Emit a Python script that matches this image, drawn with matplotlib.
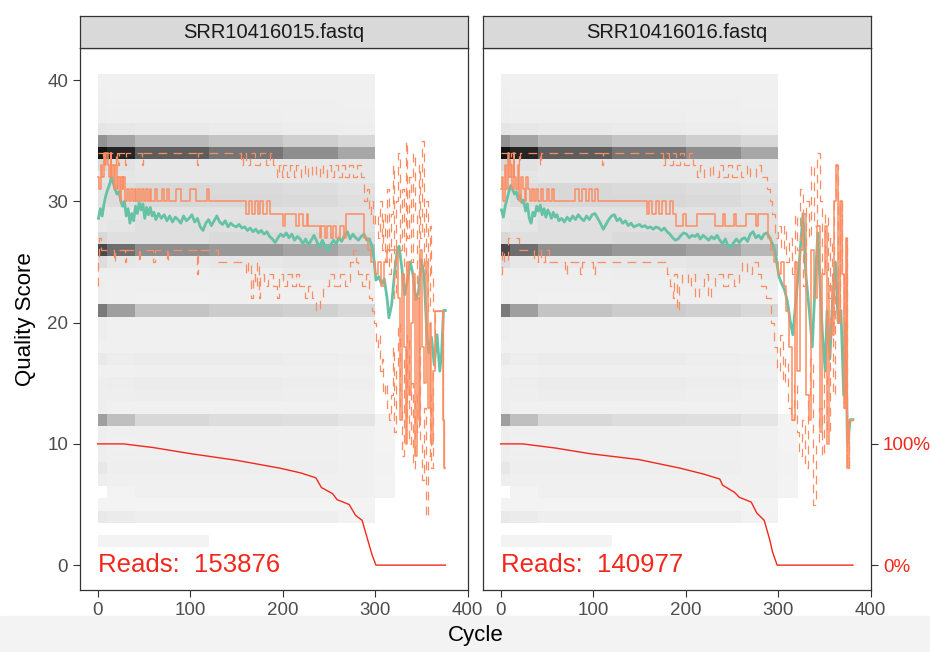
import numpy as np
import matplotlib
matplotlib.use("Agg")
import matplotlib.pyplot as plt
from matplotlib.colors import LinearSegmentedColormap
from matplotlib.patches import Rectangle

plt.rcParams['font.family'] = ['Liberation Sans', 'DejaVu Sans']

titles = ['SRR10416015.fastq', 'SRR10416016.fastq']
read_counts = [153876, 140977]

# heatmap of quality score counts (0 = no tile, 1 = black)
heat_edges = [0, 10, 40, 120, 200, 260, 300, 322]
heat = [
    [0.010, 0.010, 0.010, 0.000, 0.000, 0.000, 0.000],  # 2
    [0.000, 0.000, 0.000, 0.000, 0.000, 0.000, 0.000],  # 3
    [0.050, 0.040, 0.030, 0.030, 0.030, 0.015, 0.000],  # 4
    [0.010, 0.010, 0.010, 0.010, 0.010, 0.010, 0.000],  # 5
    [0.000, 0.010, 0.020, 0.020, 0.020, 0.020, 0.010],  # 6
    [0.030, 0.020, 0.020, 0.020, 0.020, 0.020, 0.010],  # 7
    [0.060, 0.030, 0.030, 0.030, 0.030, 0.020, 0.015],  # 8
    [0.030, 0.025, 0.025, 0.025, 0.025, 0.020, 0.015],  # 9
    [0.030, 0.020, 0.025, 0.025, 0.025, 0.020, 0.010],  # 10
    [0.030, 0.025, 0.025, 0.025, 0.025, 0.020, 0.010],  # 11
    [0.350, 0.220, 0.120, 0.100, 0.090, 0.070, 0.010],  # 12
    [0.030, 0.020, 0.020, 0.020, 0.020, 0.020, 0.000],  # 13
    [0.030, 0.030, 0.035, 0.035, 0.030, 0.020, 0.000],  # 14
    [0.030, 0.035, 0.040, 0.040, 0.035, 0.030, 0.000],  # 15
    [0.020, 0.020, 0.025, 0.025, 0.025, 0.020, 0.000],  # 16
    [0.050, 0.035, 0.040, 0.040, 0.035, 0.030, 0.000],  # 17
    [0.020, 0.020, 0.020, 0.020, 0.020, 0.020, 0.000],  # 18
    [0.030, 0.020, 0.020, 0.020, 0.020, 0.020, 0.000],  # 19
    [0.030, 0.020, 0.020, 0.020, 0.020, 0.020, 0.000],  # 20
    [0.500, 0.350, 0.200, 0.170, 0.150, 0.120, 0.000],  # 21
    [0.030, 0.025, 0.020, 0.025, 0.025, 0.025, 0.000],  # 22
    [0.030, 0.025, 0.025, 0.025, 0.030, 0.030, 0.000],  # 23
    [0.030, 0.030, 0.030, 0.035, 0.050, 0.040, 0.000],  # 24
    [0.100, 0.060, 0.050, 0.060, 0.070, 0.060, 0.000],  # 25
    [0.700, 0.550, 0.420, 0.380, 0.330, 0.250, 0.000],  # 26
    [0.120, 0.090, 0.090, 0.110, 0.110, 0.100, 0.000],  # 27
    [0.060, 0.070, 0.090, 0.090, 0.090, 0.080, 0.000],  # 28
    [0.060, 0.060, 0.080, 0.080, 0.080, 0.080, 0.000],  # 29
    [0.080, 0.100, 0.120, 0.120, 0.110, 0.090, 0.000],  # 30
    [0.080, 0.100, 0.120, 0.110, 0.100, 0.080, 0.000],  # 31
    [0.070, 0.070, 0.060, 0.060, 0.060, 0.060, 0.000],  # 32
    [0.120, 0.080, 0.060, 0.060, 0.060, 0.060, 0.000],  # 33
    [0.920, 0.850, 0.620, 0.520, 0.420, 0.320, 0.000],  # 34
    [0.400, 0.330, 0.240, 0.200, 0.160, 0.120, 0.000],  # 35
    [0.070, 0.060, 0.050, 0.040, 0.035, 0.030, 0.000],  # 36
    [0.035, 0.030, 0.030, 0.030, 0.025, 0.025, 0.000],  # 37
    [0.030, 0.025, 0.025, 0.025, 0.025, 0.020, 0.000],  # 38
    [0.025, 0.020, 0.020, 0.020, 0.020, 0.020, 0.000],  # 39
    [0.020, 0.020, 0.020, 0.020, 0.020, 0.020, 0.000],  # 40
]

# ---- SRR10416015 ----
mean1_c = [1,3,5,7,9,11,13,15,17,19,21,23,25,27,29,31,33,35,37,39,41,43,45,47,49,51,53,55,57,59,
           61,63,66,69,72,75,78,81,84,87,90,93,96,99,102,105,108,111,114,117,120,123,126,129,132,
           135,138,141,144,147,150,153,156,159,162,165,168,171,174,177,180,183,186,189,192,195,198,
           201,204,207,210,213,216,219,222,225,228,231,234,237,240,243,246,249,252,255,258,261,264,
           267,270,273,276,279,282,285,288,291,294,297,299,301,304,307,310,313,315,318,321,324,326,
           329,332,335,338,341,344,347,350,353,356,358,361,364,367,370,372,374,376]
mean1_q = [28.6,29.4,28.8,29.8,30.5,31.0,31.4,32.0,31.5,31.0,30.6,30.8,30.1,29.6,30.0,28.8,29.4,28.2,
           29.0,28.4,29.6,29.0,29.9,29.3,29.8,28.6,29.5,28.9,29.5,28.8,29.1,28.5,29.0,28.6,28.9,28.4,
           28.8,28.3,28.7,28.5,28.2,28.8,28.4,28.6,28.9,28.3,28.6,27.9,27.6,28.2,28.5,28.0,28.4,28.8,
           28.3,28.1,28.4,27.9,28.2,28.0,27.9,28.1,27.8,27.9,27.6,27.8,27.5,27.7,27.4,27.6,27.3,27.5,
           27.1,26.9,26.6,27.0,27.3,27.1,27.4,27.0,27.3,26.8,27.1,26.9,26.5,26.9,26.4,26.8,27.2,26.7,
           26.2,26.8,26.3,25.9,26.4,26.8,26.5,27.0,26.7,27.2,27.5,26.9,27.3,27.0,26.8,27.1,27.3,26.8,
           26.9,26.2,25.1,23.5,23.8,23.2,23.6,22.0,20.4,21.5,24.0,26.0,26.3,24.5,22.3,23.5,25.0,24.0,
           21.9,22.5,25.2,24.0,19.0,17.5,18.8,16.5,19.0,16.0,17.5,21.0,21.0]

med1_c = [0,2,4,5,7,8,9,11,12,14,15,16,18,19,21,22,24,25,27,28,30,32,34,36,38,40,42,44,46,48,50,52,
          54,57,58,62,64,70,72,75,77,85,90,100,106,118,121,161,164,167,170,173,176,179,183,186,200,
          203,215,218,222,226,228,240,242,246,248,252,254,258,262,266,269,288,292,296,300,303,306,
          310,313,325,327,329,331,333,335,337,339,341,343,345,347,349,351,353,355,357,359,361,363,
          365,374,375,376]
med1_q = [32,31,33,32,34,33,34,33,32,34,32,33,31,33,31,32,30,32,31,32,30,31,30,31,30,31,30,31,30,31,
          30,31,30,31,30,31,30,31,30,31,30,31,30,31,30,31,30,29,30,29,30,29,30,29,30,29,28,29,28,29,
          28,29,28,27,28,27,28,27,28,27,28,27,29,27,26,25,24,25,23,25,26,22,12,24,18,10,25,14,20,24,
          9,22,12,26,18,15,25,13,20,10,16,21,12,8,8]

q3_1_c = [0,6,7,20,21,22,23,30,31,48,49,108,109,155,157,160,165,170,176,182,186,190,194,196,199,201,
          205,208,212,215,220,224,228,232,236,240,244,248,252,256,260,264,268,272,276,280,285,288,
          291,293,296,298,300,303,305,307,309,311,313,315,317,319,321,323,325,327,329,331,333,335,
          337,339,341,343,345,347,349,351,353,355,357,359,361,363,365,374,375,376]
q3_1_q = [34,33,34,33,34,33,34,33,34,33,34,33,34,33,34,33,34,33,34,33,34,33,32,33,32,33,32,33,32,33,
          32,33,32,33,32,33,32,33,32,33,32,33,32,33,32,33,32,30,31,29,30,28,29,27,30,26,29,25,31,24,
          29,33,22,30,34,26,31,23,35,27,32,25,34,29,22,33,27,35,24,30,21,28,24,21,21,12,8,8]

q1_1_c = [0,1,2,4,18,19,30,31,45,46,60,62,75,76,108,109,130,160,163,166,168,170,172,174,176,180,184,
          190,194,196,200,205,210,214,218,224,228,232,236,240,244,250,256,262,268,273,276,279,282,
          286,290,294,297,299,301,303,305,307,309,311,313,315,317,319,321,323,325,327,329,331,333,
          335,337,339,341,343,345,347,349,351,353,355,357,359,361,363,365,374,375,376]
q1_1_q = [23,25,27,26,25,26,25,26,25,26,25,26,25,26,24,26,25,24,25,22,24,23,25,22,24,23,24,23,22,24,
          23,24,23,24,23,22,23,22,21,22,23,24,23,24,23,25,26,25,24,23,24,22,21,20,18,19,16,17,14,15,
          13,12,14,18,11,16,20,13,9,17,12,19,10,15,8,14,11,18,10,7,13,4,9,14,8,16,21,12,8,8]

reads1_c = [0, 28, 60, 100, 150, 197, 220, 236, 242, 254, 259, 272, 279, 286, 292, 297, 301, 376]
reads1_q = [10, 10, 9.7, 9.2, 8.65, 8.0, 7.6, 7.2, 6.4, 5.9, 5.4, 5.0, 4.1, 3.7, 2.1, 0.8, 0, 0]

# ---- SRR10416016 ----
mean2_c = [1,3,5,7,9,11,13,15,17,19,21,23,25,27,29,31,33,35,37,39,41,43,45,47,49,51,53,55,57,59,
           61,63,66,69,72,75,78,81,84,87,90,93,96,99,102,105,108,111,114,117,120,123,126,129,132,
           135,138,141,144,147,150,153,156,159,162,165,168,171,174,177,180,183,186,189,192,195,198,
           201,204,207,210,213,216,219,222,225,228,231,234,237,240,243,246,249,252,255,258,261,264,
           267,270,273,276,279,282,285,288,291,294,297,299,301,304,307,310,313,316,320,323,327,330,
           334,337,340,343,346,348,351,353,356,359,362,365,368,371,373,375,378,381]
mean2_q = [29.3,28.7,29.6,30.2,30.8,31.3,31.0,30.6,30.8,30.2,30.5,29.9,30.1,29.2,29.8,28.6,28.2,29.1,
           28.8,29.6,29.2,29.7,28.9,29.4,28.7,29.3,29.0,28.6,29.1,28.7,28.9,28.4,28.6,28.3,28.7,28.4,
           28.8,28.5,28.9,28.6,28.4,28.8,28.5,28.9,29.0,28.6,28.2,27.7,28.1,28.5,28.8,28.9,28.4,28.6,
           28.2,28.4,28.0,28.2,27.9,28.0,28.1,27.9,28.0,27.8,27.9,27.7,27.9,27.8,27.6,27.8,27.5,27.3,
           27.0,26.8,26.9,27.2,27.4,27.3,27.0,27.2,27.1,27.3,26.9,27.2,27.0,26.8,27.1,26.9,27.2,26.8,
           26.5,26.9,26.3,26.2,26.6,26.9,26.6,26.9,27.0,26.7,27.3,27.5,27.0,27.2,26.9,27.3,27.4,27.0,
           26.5,25.8,24.8,23.8,23.2,22.7,21.8,20.2,19.0,22.4,25.0,29.0,24.0,20.8,18.0,23.0,27.4,22.0,
           19.1,16.0,21.0,17.0,22.0,25.0,20.0,21.0,14.0,20.0,10.0,12.0,12.0]

med2_c = [0,2,3,5,6,8,9,11,12,14,15,17,19,20,22,24,26,28,30,32,34,36,38,40,44,46,50,52,56,58,81,85,
          88,92,96,99,102,105,158,161,164,168,171,175,179,183,186,190,197,200,212,232,240,243,252,
          254,265,276,278,289,292,296,300,303,306,309,312,315,318,321,324,327,330,333,336,339,342,
          345,348,351,353,355,358,360,363,365,367,369,371,373,375,377,381]
med2_q = [31,32,30,33,31,34,32,33,31,34,32,31,33,30,32,31,30,32,31,30,31,30,31,30,31,30,31,30,31,30,
          31,30,31,30,31,30,31,30,29,30,29,30,29,30,29,30,29,28,29,28,29,28,29,28,29,28,29,28,29,27,
          26,25,24,25,23,21,18,12,25,16,26,29,14,12,26,22,28,11,24,28,10,23,19,30,33,20,30,24,13,27,
          8,12,12]

q3_2_c = [0,10,11,20,21,43,44,110,111,176,178,182,186,190,194,198,204,208,212,216,220,226,230,236,
          240,246,250,256,260,266,270,276,282,288,291,294,297,300,303,306,309,312,315,318,321,324,
          327,330,333,336,339,342,345,348,351,354,356,358,360,363,365,367,369,371,373,375,377,381]
q3_2_q = [34,33,34,33,34,33,34,33,34,33,34,33,34,33,34,33,34,33,32,33,32,33,32,33,32,33,32,33,32,33,
          32,33,32,31,30,29,27,28,26,28,25,27,24,29,26,31,23,30,27,33,28,34,30,24,29,22,27,20,30,33,
          20,30,24,13,27,8,12,12]

q1_2_c = [0,2,4,8,20,36,40,44,48,52,70,72,86,88,100,102,180,183,186,188,191,193,196,203,206,210,214,
          220,224,228,232,240,246,252,258,261,266,272,278,282,287,292,296,299,302,305,308,311,314,
          317,320,323,326,329,332,335,338,341,344,347,350,353,356,359,362,365,367,369,371,373,375,
          377,381]
q1_2_q = [24,26,25,27,26,25,26,25,26,25,24,25,24,25,24,25,24,23,22,24,21,23,24,23,24,22,23,24,22,23,
          24,23,24,23,24,25,24,25,24,23,22,20,18,16,19,15,17,13,12,15,11,9,12,8,14,17,5,10,13,9,16,
          11,21,14,24,20,30,24,13,27,8,12,12]

reads2_c = [0, 24, 60, 96, 150, 194, 220, 237, 240, 253, 258, 271, 277, 285, 291, 294, 299, 381]
reads2_q = [10, 10, 9.65, 9.2, 8.7, 8.0, 7.5, 7.1, 6.6, 6.0, 5.6, 5.2, 4.3, 3.7, 2.1, 1.1, 0, 0]

panels = [
    (mean1_c, mean1_q, med1_c, med1_q, q3_1_c, q3_1_q, q1_1_c, q1_1_q, reads1_c, reads1_q),
    (mean2_c, mean2_q, med2_c, med2_q, q3_2_c, q3_2_q, q1_2_c, q1_2_q, reads2_c, reads2_q),
]

GREEN = '#66C2A5'
ORANGE = '#FC8D62'
RED = '#F2281C'
cmap = LinearSegmentedColormap.from_list('qual', ['#F5F5F5', '#000000'])

fig = plt.figure(figsize=(9.3, 6.52), dpi=100)
fig.patches.append(Rectangle((0, 0), 1, 36 / 652, transform=fig.transFigure,
                             color='#f3f3f3', zorder=-5))

W, H = 930.0, 652.0
lefts = [80, 483]
for i, (left, data) in enumerate(zip(lefts, panels)):
    mc, mq, dc, dq, uc, uq, lc, lq, rc, rq = data
    ax = fig.add_axes([left / W, 1 - 590 / H, 388 / W, 542 / H])
    ax.pcolormesh(heat_edges, np.arange(1.5, 41.5, 1),
                  np.ma.masked_equal(np.array(heat), 0),
                  cmap=cmap, vmin=0, vmax=1, shading='flat')
    ax.plot(mc, mq, color=GREEN, lw=2.0)
    ax.step(uc, uq, where='post', color=ORANGE, lw=0.9, ls=(0, (7, 5)))
    ax.step(lc, lq, where='post', color=ORANGE, lw=0.9, ls=(0, (7, 5)))
    ax.step(dc, dq, where='post', color=ORANGE, lw=1.1)
    ax.plot(rc, rq, color=RED, lw=1.0)
    ax.text(0, 0, 'Reads:  %d' % read_counts[i], color=RED, fontsize=18.5,
            ha='left', va='center')

    ax.set_xlim(-19, 400.5)
    ax.set_ylim(-2.05, 42.65)
    ax.set_xticks([0, 100, 200, 300, 400])
    for s in ax.spines.values():
        s.set_color('#333333')
        s.set_linewidth(0.9)
    ax.tick_params(labelsize=13.5, color='#333333', labelcolor='#4d4d4d',
                   length=5, width=0.8)
    if i == 0:
        ax.set_yticks([0, 10, 20, 30, 40])
    else:
        ax.yaxis.tick_right()
        ax.set_yticks([0, 10])
        ax.set_yticklabels(['0%', '100%'])
        ax.tick_params(axis='y', labelcolor=RED)

    sax = fig.add_axes([left / W, 1 - 48 / H, 388 / W, 32 / H])
    sax.set_facecolor('#d9d9d9')
    sax.set_xticks([])
    sax.set_yticks([])
    for s in sax.spines.values():
        s.set_color('#333333')
        s.set_linewidth(0.9)
    sax.text(0.5, 0.5, titles[i], ha='center', va='center', fontsize=14.5,
             color='#1a1a1a', transform=sax.transAxes)

fig.text(25 / W, 1 - 319 / H, 'Quality Score', rotation=90, ha='center',
         va='center', fontsize=16)
fig.text(476 / W, 1 - 636 / H, 'Cycle', ha='center', va='center', fontsize=16)

fig.savefig('out.png', dpi=100)
